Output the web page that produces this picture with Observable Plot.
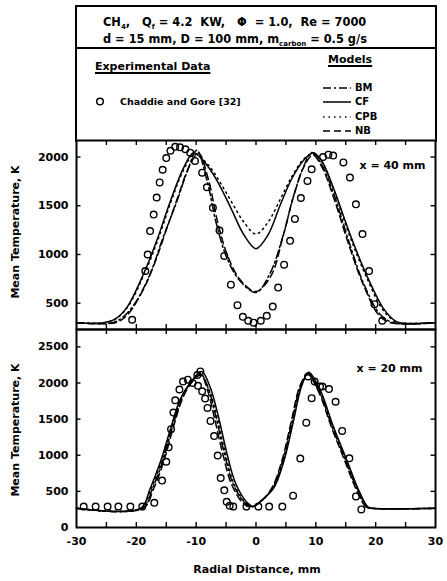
<!DOCTYPE html>
<html>
<head>
<meta charset="utf-8">
<script src="https://cdn.jsdelivr.net/npm/d3@7"></script>
<script src="https://cdn.jsdelivr.net/npm/@observablehq/plot@0.6"></script>
<style>
  body { margin: 0; background: #fff; }
  #fig { position: relative; width: 447px; height: 581px; background: #fff; color: #000;
         font-family: "DejaVu Sans", Verdana, sans-serif; font-weight: bold; }
  #head { position: absolute; left: 75px; top: 5px; width: 362px; height: 137px; box-sizing: border-box;
          border: 2px solid #000; border-bottom: none; }
  #divider { position: absolute; left: 75px; top: 47px; width: 362px; height: 2px; background: #000; }
  .t { position: absolute; white-space: nowrap; line-height: 1; }
  .title { font-size: 11.4px; }
  .leg { font-size: 10px; }
  .u { text-decoration: underline; text-decoration-thickness: 1.5px; text-underline-offset: 2px; }
  sub { font-size: 7px; vertical-align: -3px; }
  .ytitle { position: absolute; font-size: 11px; white-space: nowrap; line-height: 1;
            transform: translate(-50%, -50%) rotate(-90deg); }
  .xtitle { position: absolute; font-size: 11px; white-space: nowrap; line-height: 1;
            transform: translate(-50%, -50%); }
  #fig svg.panel { position: absolute; left: 0; }
</style>
</head>
<body>
<div id="fig">
  <div id="head"></div>
  <div id="divider"></div>
  <div class="t title" style="left:103px;top:17px">CH<sub>4</sub>,&nbsp;&nbsp; Q<sub>f</sub> = 4.2&nbsp; KW,&nbsp;&nbsp; Φ&nbsp; = 1.0,&nbsp; Re = 7000</div>
  <div class="t title" style="left:103px;top:34px">d = 15 mm, D = 100 mm, m<sub>carbon</sub> = 0.5 g/s</div>
  <div class="t u" style="left:95px;top:61px;font-size:11px">Experimental Data</div>
  <div class="t u" style="left:328px;top:54px;font-size:11px">Models</div>
  <div class="t leg" style="left:120px;top:96.5px;font-size:9.5px">Chaddie and Gore [32]</div>
  <div class="t leg" style="left:355px;top:82.5px">BM</div>
  <div class="t leg" style="left:355px;top:96.5px">CF</div>
  <div class="t leg" style="left:355px;top:111.5px">CPB</div>
  <div class="t leg" style="left:355px;top:125.5px">NB</div>
  <svg style="position:absolute;left:0;top:0" width="447" height="140">
    <circle cx="100" cy="101.5" r="3.3" fill="none" stroke="#000" stroke-width="1.5"/>
    <line x1="323" x2="351" y1="88" y2="88" stroke="#000" stroke-width="1.5" stroke-dasharray="8,3,2,3"/>
    <line x1="323" x2="351" y1="102" y2="102" stroke="#000" stroke-width="1.5"/>
    <line x1="323" x2="351" y1="117" y2="117" stroke="#000" stroke-width="1.5" stroke-dasharray="1.5,4"/>
    <line x1="323" x2="351" y1="131" y2="131" stroke="#000" stroke-width="1.5" stroke-dasharray="7,4"/>
  </svg>
  <div class="ytitle" style="left:15px;top:232px">Mean Temperature, K</div>
  <div class="ytitle" style="left:15px;top:430px">Mean Temperature, K</div>
  <div class="xtitle" style="left:257px;top:569px">Radial Distance, mm</div>
</div>
<script>
// Radial distance axis (mm)
const xDomain = [-30, 30];
const xTickLabels = [-30, -20, -10, 0, 10, 20, 30];
const xMinorTicks = [-25, -20, -15, -10, -5, 0, 5, 10, 15, 20, 25];

// ---- x = 40 mm station: [radial distance mm, mean temperature K] ----
const x40_exp = [
  [-20.7,330],[-18.5,830],[-18.1,1000],[-17.7,1240],[-17.1,1410],[-16.6,1585],[-16.1,1740],
  [-15.6,1870],[-15.0,1990],[-14.3,2065],[-13.5,2105],[-12.7,2100],[-11.8,2080],[-11.0,2045],
  [-10.2,1960],[-9.0,1840],[-8.2,1690],[-7.2,1480],[-6.1,1245],[-5.3,985],[-4.2,690],[-3.1,480],
  [-2.2,360],[-1.3,320],[-0.4,300],[0.8,320],[1.8,370],[2.8,465],[3.7,660],[4.7,895],[5.7,1140],
  [6.5,1365],[7.5,1580],[8.6,1755],[9.3,1875],[11.2,2000],[12.1,2025],[12.9,2015],[14.6,1945],
  [15.7,1790],[16.7,1515],[17.8,1210],[18.9,830],[19.8,490],[21.1,320]
];
const x40_BM = [
  [-30,300],[-24,300],[-22,370],[-20,520],[-17.7,800],[-15.5,1180],[-13.2,1550],[-11.5,1850],
  [-9.9,2070],[-8.2,1760],[-6.6,1310],[-4.9,970],[-2.7,730],[0,610],[2.3,800],[4.6,1210],
  [6.2,1585],[7.9,1893],[9.3,2047],[11,1920],[13,1620],[15.7,1100],[18,700],[20.7,390],[23,300],[30,300]
];
const x40_CF = [
  [-30,300],[-25.5,300],[-23.5,340],[-21.6,455],[-18.8,800],[-16.6,1140],[-14.3,1550],[-12.1,1890],
  [-10.4,2045],[-8,1900],[-6,1700],[-4,1450],[-2,1200],[0,1060],[2,1200],[4,1500],[6,1780],
  [8,1970],[9.6,2045],[11,1960],[12.9,1690],[15.7,1210],[18.4,800],[21.2,455],[23,330],[24,300],[30,300]
];
const x40_CPB = [
  [-30,300],[-25.3,300],[-23.3,345],[-21.4,465],[-18.6,810],[-16.4,1150],[-14.1,1560],[-12,1880],
  [-10.3,2030],[-8,1920],[-6,1740],[-4,1530],[-2,1330],[0,1210],[2,1330],[4,1560],[6,1800],
  [8,1980],[9.5,2030],[11,1950],[12.9,1680],[15.6,1200],[18.3,790],[21,450],[22.8,330],[23.8,300],[30,300]
];
const x40_NB = [
  [-30,300],[-23.5,300],[-21.5,380],[-19,620],[-17,900],[-15,1250],[-13,1600],[-11.2,1900],
  [-9.6,2040],[-8,1780],[-6.4,1330],[-4.7,980],[-2.5,730],[0,620],[2.5,780],[4.5,1180],
  [6.3,1600],[8,1900],[9.5,2020],[11,1900],[13,1580],[15.5,1100],[18,680],[20.5,380],[22.5,300],[30,300]
];

// ---- x = 20 mm station ----
const x20_exp = [
  [-28.8,290],[-26.8,290],[-24.8,290],[-23.0,290],[-21.0,290],[-19.0,290],[-17.0,341],[-15.7,650],
  [-15.0,910],[-14.6,1110],[-14.2,1360],[-13.8,1590],[-13.5,1760],[-12.8,1910],[-12.2,2020],
  [-11.4,2045],[-10.6,2000],[-9.8,2110],[-9.3,2160],[-9.7,1960],[-9.0,1885],[-8.5,1785],[-8.1,1655],
  [-7.6,1475],[-7.0,1265],[-6.4,995],[-5.9,685],[-5.3,515],[-4.9,355],[-4.4,300],[-3.8,290],
  [-1.6,290],[0.4,290],[2.2,290],[4.4,290],[6.2,440],[7.4,955],[8.4,1450],[9.3,1790],[8.7,2090],
  [9.8,2020],[10.7,1950],[11.1,1950],[12.2,1915],[13.3,1740],[14.4,1336],[15.6,957],[16.7,430],[17.6,250]
];
const x20_BM = [
  [-30,265],[-19,265],[-17.3,540],[-15.6,920],[-14,1380],[-12.4,1790],[-10.8,2020],[-9.3,2130],
  [-8,1930],[-6.7,1530],[-5.3,1030],[-3.9,620],[-2,350],[-0.8,285],[0.5,340],[2.7,540],[4.4,910],
  [6,1460],[7.4,1950],[8.7,2130],[10.5,1900],[12.7,1400],[14.9,940],[17.1,490],[18.5,280],[19.3,265],[30,265]
];
const x20_CF = [
  [-30,265],[-19.3,265],[-17.7,537],[-16,903],[-14.3,1360],[-12.7,1770],[-11,2000],[-9.1,2158],
  [-7.7,1950],[-6.3,1540],[-4.9,1040],[-3.5,630],[-1.6,355],[-0.5,290],[0.7,360],[2.9,537],[4.6,903],
  [6.2,1450],[7.6,1950],[8.8,2150],[10.7,1907],[12.9,1404],[15.1,948],[17.3,492],[18.7,286],[19.5,265],[30,265]
];
const x20_CPB = [
  [-30,265],[-19.2,265],[-17.5,540],[-15.8,910],[-14.1,1370],[-12.5,1780],[-10.9,2010],[-9.3,2110],
  [-7.9,1920],[-6.5,1520],[-5.1,1020],[-3.7,610],[-1.8,345],[-0.6,290],[0.6,350],[2.8,540],[4.5,905],
  [6.1,1455],[7.5,1950],[8.8,2120],[10.6,1905],[12.8,1400],[15,945],[17.2,490],[18.6,282],[19.4,265],[30,265]
];
const x20_NB = [
  [-30,265],[-18.9,265],[-17.1,540],[-15.4,920],[-13.8,1390],[-12.2,1800],[-10.6,2020],[-9.2,2110],
  [-8.1,1900],[-6.9,1500],[-5.5,1000],[-4.1,600],[-2.2,340],[-1,285],[0.4,330],[2.6,540],[4.3,915],
  [5.9,1470],[7.3,1950],[8.6,2120],[10.4,1890],[12.6,1390],[14.8,930],[17,480],[18.4,280],[19.2,265],[30,265]
];

const x40_yTicks = [500, 1000, 1500, 2000];
const x20_yTicks = [0, 500, 1000, 1500, 2000, 2500];

// line style per model
const modelStyles = {BM: "8,3,2,3", CF: null, CPB: "1.5,4", NB: "7,4"};

const font = '"DejaVu Sans", Verdana, sans-serif';

function panel({exp, models, yDomain, yTicks, station, top, height, marginTop, marginBottom, xAxis, labelDx, labelDy}) {
  const plotH = height - marginTop - marginBottom;
  const perPx = (yDomain[1] - yDomain[0]) / plotH;   // data units per pixel
  const tickY = 5 * perPx;
  const tickX = 0.75;                                 // mm (~4.5 px)
  const marks = [
    ...Object.entries(models).map(([name, data]) =>
      Plot.line(data, {x: d => d[0], y: d => d[1], curve: "catmull-rom",
        stroke: "black", strokeWidth: 1.5,
        strokeDasharray: modelStyles[name] || undefined})),
    Plot.dot(exp, {x: d => d[0], y: d => d[1], r: 3.3, stroke: "black", strokeWidth: 1.4, fill: "none"}),
    // inward ticks on all four sides
    Plot.ruleX(xMinorTicks, {x: d => d, y1: yDomain[0], y2: yDomain[0] + tickY, strokeWidth: 1.4}),
    Plot.ruleX(xMinorTicks, {x: d => d, y1: yDomain[1], y2: yDomain[1] - tickY, strokeWidth: 1.4}),
    Plot.ruleY(yTicks.filter(v => v > yDomain[0]), {y: d => d, x1: xDomain[0], x2: xDomain[0] + tickX, strokeWidth: 1.4}),
    Plot.ruleY(yTicks.filter(v => v > yDomain[0]), {y: d => d, x1: xDomain[1], x2: xDomain[1] - tickX, strokeWidth: 1.4}),
    Plot.frame({stroke: "black", strokeWidth: 2}),
    Plot.text([station], {frameAnchor: "top-right", dx: labelDx, dy: labelDy, lineAnchor: "middle",
      textAnchor: "end", fontSize: 11, fontWeight: "bold", fill: "black"})
  ];
  const svg = Plot.plot({
    width: 447, height, marginLeft: 76, marginRight: 12, marginTop, marginBottom,
    style: {background: "none", fontFamily: font, fontSize: "11px", fontWeight: "bold", color: "black", overflow: "visible"},
    x: {domain: xDomain, ticks: xTickLabels, tickSize: 0, tickPadding: 10, tickFormat: d => String(d),
        axis: xAxis ? "bottom" : null, label: null},
    y: {domain: yDomain, ticks: yTicks, tickSize: 0, tickPadding: 8, tickFormat: d => String(d), label: null},
    marks
  });
  svg.classList.add("panel");
  svg.style.top = top + "px";
  return svg;
}

const fig = document.getElementById("fig");
fig.appendChild(panel({
  exp: x40_exp, models: {BM: x40_BM, CF: x40_CF, CPB: x40_CPB, NB: x40_NB},
  yDomain: [230, 2170], yTicks: x40_yTicks, station: "x = 40 mm",
  top: 128, height: 203, marginTop: 12, marginBottom: 2, xAxis: false, labelDx: -10, labelDy: 25
}));
fig.appendChild(panel({
  exp: x20_exp, models: {BM: x20_BM, CF: x20_CF, CPB: x20_CPB, NB: x20_NB},
  yDomain: [0, 2740], yTicks: x20_yTicks, station: "x = 20 mm",
  top: 327, height: 254, marginTop: 2, marginBottom: 54, xAxis: true, labelDx: -13, labelDy: 39
}));
</script>
</body>
</html>
